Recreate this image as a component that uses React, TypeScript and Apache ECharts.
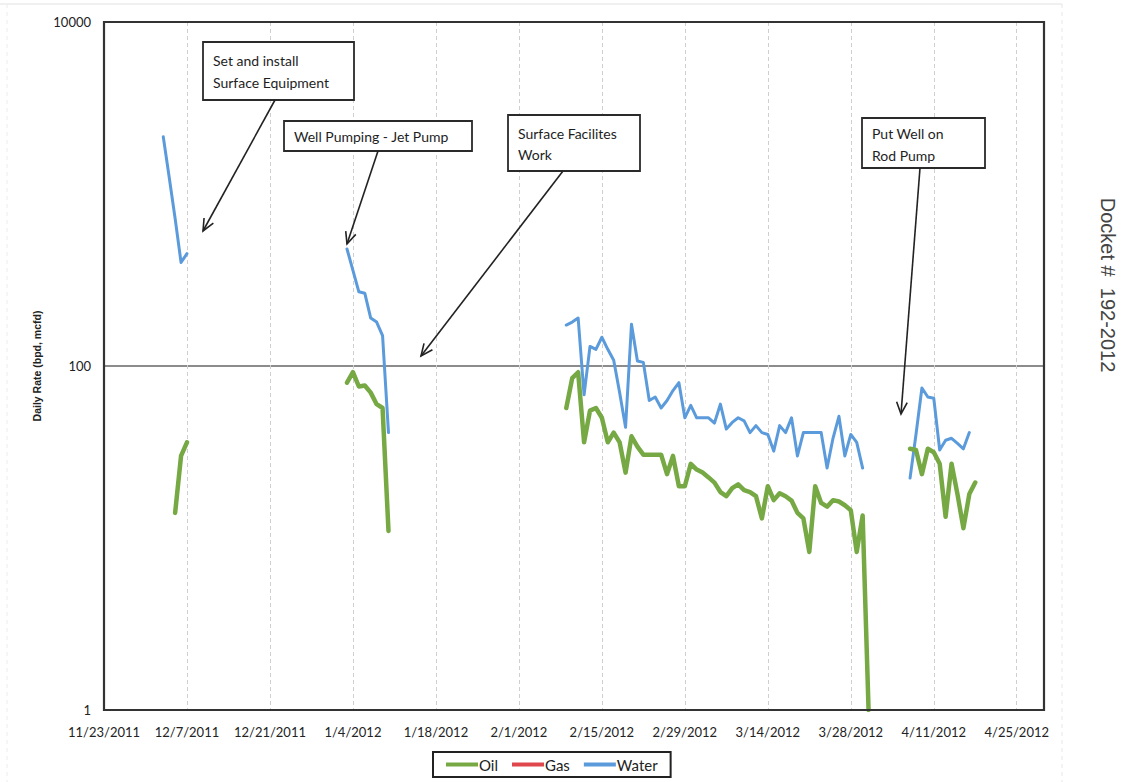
import React, { useEffect, useRef } from 'react';
import * as echarts from 'echarts';

// ---- axis setup ----
const baseDateLabel = '11/23/2011';
const xMaxDays = 158.6;
const xTickDays = 14;
const yTickValues = [1, 100, 10000];

// ---- series data (daily values, each segment starts on the given date) ----
const seriesNames = ['Oil', 'Gas', 'Water'];

const oilStarts = ['12/5/2011', '1/3/2012', '2/9/2012', '4/7/2012'];
const oilSeg1 = [14, 30, 36];
const oilSeg2 = [80, 92, 76, 77, 70, 60, 57, 11];
const oilSeg3 = [
  57, 85, 92, 36, 55, 57, 50, 36, 41, 36,
  24, 39, 34, 30.5, 30.5, 30.5, 30.5, 23.5, 30, 20,
  20, 27, 25, 24, 22.5, 21, 18.5, 17.5, 19.5, 20.5,
  19, 18.5, 17.5, 13, 20, 16.6, 18.2, 17.5, 16.5, 14,
  13, 8.3, 20, 16, 15.2, 16.6, 16.3, 15.5, 14.5, 8.3,
  13.5, 1,
];
const oilSeg4 = [33, 32.5, 23.5, 33, 31.5, 27, 13.3, 27, 18, 11.4, 18, 21];

const gasStarts: string[] = [];
const gasSegs: number[][] = [];

const waterStarts = ['12/3/2011', '1/3/2012', '2/9/2012', '4/7/2012'];
const waterSeg1 = [2150, 1250, 720, 400, 450];
const waterSeg2 = [479, 360, 270, 265, 190, 180, 150, 41];
const waterSeg3 = [
  173, 180, 190, 68, 130, 125, 147, 125, 108, 70,
  44, 175, 107, 105, 63, 66, 57, 63, 72, 80,
  50, 59, 50, 50, 50, 46.6, 60, 43, 47, 50,
  48, 41, 45, 41, 40, 32, 45, 41, 50, 30,
  41, 41, 41, 41, 25.5, 38, 51, 30, 40, 36,
  25.5,
];
const waterSeg4 = [22.3, 40, 74.5, 66, 65, 32.5, 37, 38, 35.5, 33, 41];

// ---- annotations ----
const noteTexts = [
  ['Set and install', 'Surface Equipment'],
  ['Well Pumping - Jet Pump'],
  ['Surface Facilites', 'Work'],
  ['Put Well on', 'Rod Pump'],
];

const colors = { Oil: '#76a844', Gas: '#e0474c', Water: '#5b9bdc' };

const toUTC = (s: string) => {
  const [m, d, y] = s.split('/').map(Number);
  return Date.UTC(y, m - 1, d);
};
const baseUTC = toUTC(baseDateLabel);
const dayOf = (s: string) => Math.round((toUTC(s) - baseUTC) / 86400000);
const labelOf = (day: number) => {
  const dt = new Date(baseUTC + day * 86400000);
  return `${dt.getUTCMonth() + 1}/${dt.getUTCDate()}/${dt.getUTCFullYear()}`;
};

const build = (starts: string[], segs: number[][]) => {
  const out: any[] = [];
  segs.forEach((seg, i) => {
    const s = dayOf(starts[i]);
    seg.forEach((v, j) => out.push([s + j, v]));
    if (i < segs.length - 1) out.push([s + seg.length, '-']);
  });
  return out;
};

const arrow = (x1: number, y1: number, x2: number, y2: number) => {
  const dx = x2 - x1, dy = y2 - y1;
  const len = Math.hypot(dx, dy);
  const ux = dx / len, uy = dy / len;
  const h = 13, a = 0.42;
  const p1 = [x2 - h * (ux * Math.cos(a) - uy * Math.sin(a)), y2 - h * (uy * Math.cos(a) + ux * Math.sin(a))];
  const p2 = [x2 - h * (ux * Math.cos(a) + uy * Math.sin(a)), y2 - h * (uy * Math.cos(a) - ux * Math.sin(a))];
  const st = { stroke: '#222', lineWidth: 1.6, fill: 'none' };
  return [
    { type: 'line', z: 100, shape: { x1, y1, x2, y2 }, style: st },
    { type: 'polyline', z: 100, shape: { points: [p1, [x2, y2], p2] }, style: st },
  ];
};

const box = (x: number, y: number, w: number, h: number, lines: string[], lh: number, ty: number) => {
  const els: any[] = [
    { type: 'rect', z: 100, shape: { x, y, width: w, height: h }, style: { fill: '#fff', stroke: '#2a2a2a', lineWidth: 1.8 } },
  ];
  lines.forEach((t, i) => {
    els.push({
      type: 'text', z: 101, x: x + 10, y: ty + i * lh,
      style: { text: t, fill: '#1e1e1e', font: '14px Lato', verticalAlign: 'middle' },
    });
  });
  return els;
};

export default function App() {
  const ref = useRef<HTMLDivElement>(null);
  useEffect(() => {
    if (!ref.current) return;
    const chart = echarts.init(ref.current, undefined, { renderer: 'svg' });
    const graphic: any[] = [
      { type: 'line', shape: { x1: 0, y1: 4, x2: 1062, y2: 4 }, style: { stroke: '#e2e2e2', lineWidth: 1 } },
      { type: 'line', shape: { x1: 1062, y1: 4, x2: 1062, y2: 782 }, style: { stroke: '#e6e6e6', lineWidth: 1, lineDash: [4, 4] } },
      { type: 'line', shape: { x1: 7, y1: 4, x2: 7, y2: 782 }, style: { stroke: '#ececec', lineWidth: 1, lineDash: [4, 4] } },
      { type: 'rect', z: 90, shape: { x: 104, y: 22, width: 940, height: 688 }, style: { fill: 'none', stroke: '#333', lineWidth: 2.2 } },
      ...box(203, 42, 151, 58, noteTexts[0], 22, 60),
      ...box(284, 121, 188, 30, noteTexts[1], 22, 136),
      ...box(508, 115, 132, 56, noteTexts[2], 21, 133),
      ...box(862, 118, 123, 50, noteTexts[3], 22, 133),
      ...arrow(275, 100, 203, 231),
      ...arrow(378, 151, 347, 244),
      ...arrow(563, 171, 421, 356),
      ...arrow(920, 168, 901, 414),
      {
        type: 'text', x: 1108, y: 285, rotation: -Math.PI / 2,
        style: { text: 'Docket #  192-2012', font: '20px "Liberation Sans"', fill: '#444', align: 'center', verticalAlign: 'middle' },
      },
    ];
    chart.setOption({
      animation: false,
      backgroundColor: '#fff',
      grid: { left: 104, right: 84, top: 22, bottom: 72, show: true, borderWidth: 0, backgroundColor: '#fff' },
      legend: {
        data: seriesNames,
        left: 433, top: 752,
        icon: 'rect', itemWidth: 32, itemHeight: 4, itemGap: 14,
        borderColor: '#222', borderWidth: 2, padding: [5, 13],
        backgroundColor: '#fff',
        textStyle: { fontFamily: 'Lato', fontSize: 15, color: '#222', padding: [0, 0, 0, -4] },
      },
      xAxis: {
        type: 'value', min: 0, max: xMaxDays, interval: xTickDays,
        axisLine: { show: false }, axisTick: { show: false },
        axisLabel: {
          color: '#222', fontFamily: 'Lato', fontSize: 13, margin: 15,
          showMaxLabel: false,
          formatter: (v: number) => (Math.abs(v % xTickDays) < 1e-6 ? labelOf(v) : ''),
        },
        splitLine: { show: true, lineStyle: { color: '#cfcfcf', width: 1, type: [4, 3] } },
      },
      yAxis: {
        type: 'log', logBase: 100, min: yTickValues[0], max: yTickValues[yTickValues.length - 1],
        axisLine: { show: false }, axisTick: { show: false },
        axisLabel: { color: '#222', fontFamily: 'Lato', fontSize: 13, margin: 13, formatter: (v: number) => String(Math.round(v)) },
        splitLine: { show: true, lineStyle: { color: '#8c8c8c', width: 2 } },
        name: 'Daily Rate (bpd, mcfd)', nameLocation: 'middle', nameGap: 62,
        nameTextStyle: { fontFamily: '"Liberation Sans"', fontWeight: 'bold', fontSize: 10.5, color: '#222' },
      },
      series: [
        {
          name: 'Oil', type: 'line', showSymbol: false, symbol: 'none', connectNulls: false, z: 3,
          data: build(oilStarts, [oilSeg1, oilSeg2, oilSeg3, oilSeg4]),
          lineStyle: { color: colors.Oil, width: 4.5, join: 'round', cap: 'round' }, itemStyle: { color: colors.Oil },
        },
        {
          name: 'Gas', type: 'line', showSymbol: false, symbol: 'none', connectNulls: false,
          data: build(gasStarts, gasSegs),
          lineStyle: { color: colors.Gas, width: 3 }, itemStyle: { color: colors.Gas },
        },
        {
          name: 'Water', type: 'line', showSymbol: false, symbol: 'none', connectNulls: false, z: 2,
          data: build(waterStarts, [waterSeg1, waterSeg2, waterSeg3, waterSeg4]),
          lineStyle: { color: colors.Water, width: 3, join: 'round', cap: 'round' }, itemStyle: { color: colors.Water },
        },
      ],
      graphic,
    });
    return () => chart.dispose();
  }, []);
  return <div ref={ref} style={{ position: 'absolute', left: 0, top: 0, width: 1128, height: 782 }} />;
}
